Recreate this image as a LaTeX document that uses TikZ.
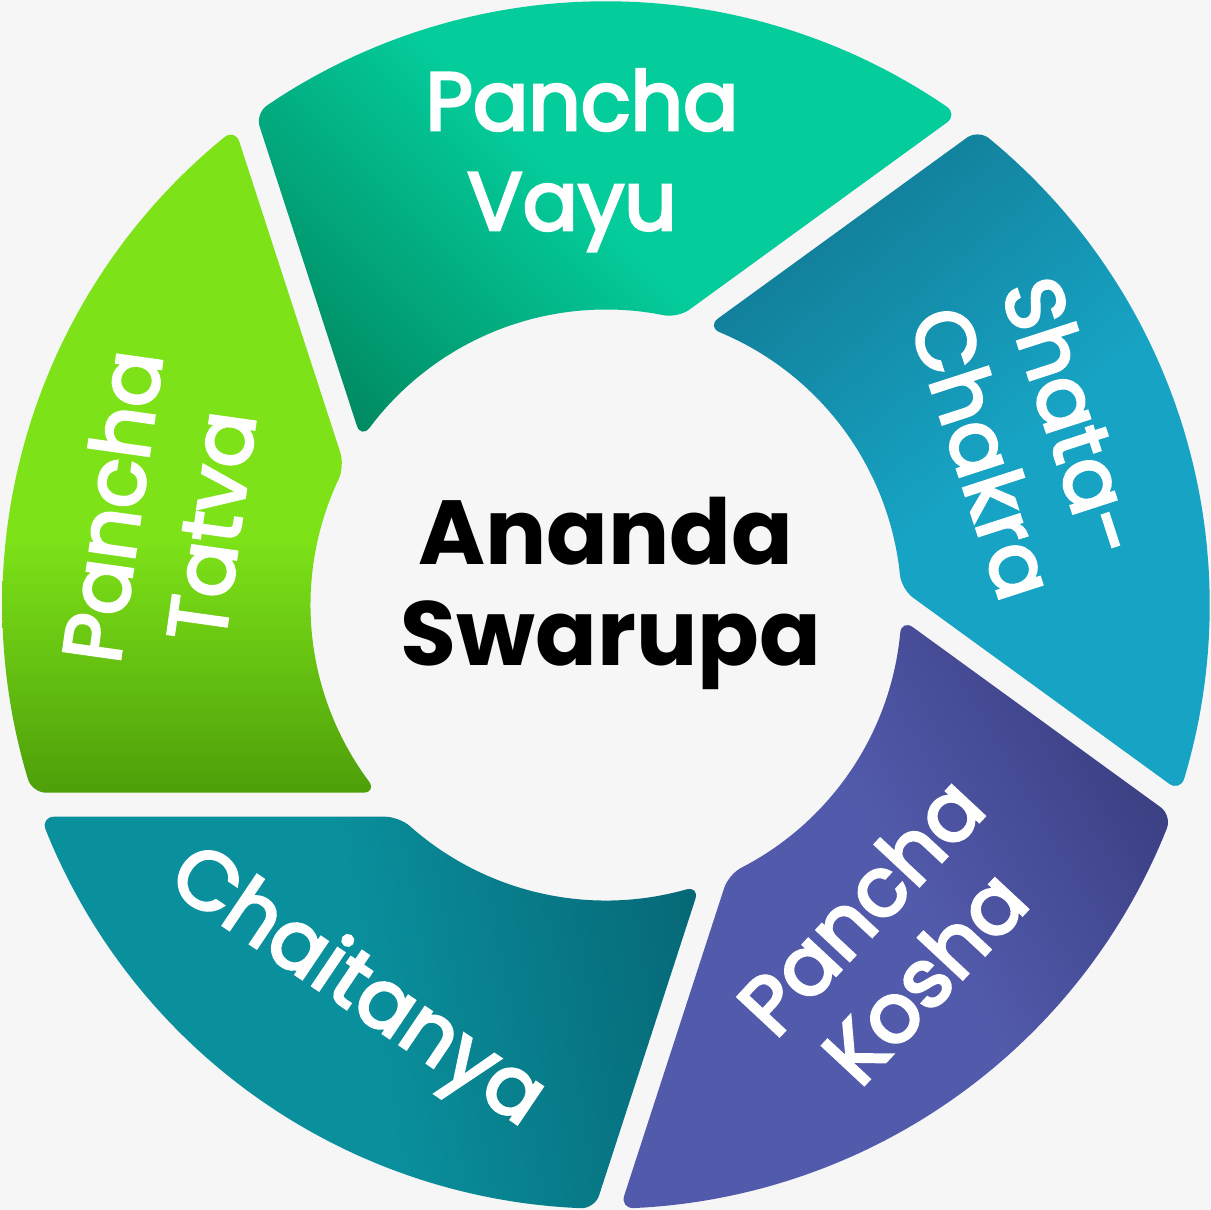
\documentclass[tikz,border=0pt]{standalone}
\usepackage{fontspec}
\usetikzlibrary{calc}
\setmainfont{Poppins}
\newfontfamily\labfont{Poppins}[FakeBold=3.5]
\definecolor{bgc}{HTML}{F6F6F6}
\definecolor{tatvaL}{HTML}{7DE218}
\definecolor{tatvaD}{HTML}{4E9F0A}
\definecolor{vayuL}{HTML}{04CC9B}
\definecolor{vayuD}{HTML}{00845D}
\definecolor{shataL}{HTML}{17A3C3}
\definecolor{shataD}{HTML}{10758F}
\definecolor{koshaL}{HTML}{525AAB}
\definecolor{koshaD}{HTML}{353878}
\definecolor{chaiL}{HTML}{0A8F9C}
\definecolor{chaiD}{HTML}{066776}
\pgfdeclareverticalshading{tatvash}{100bp}{color(0bp)=(tatvaD); color(25bp)=(tatvaD); color(44bp)=(tatvaL); color(100bp)=(tatvaL)}
\pgfdeclareverticalshading{vayush}{100bp}{color(0bp)=(vayuD); color(19bp)=(vayuD); color(50bp)=(vayuL); color(100bp)=(vayuL)}
\pgfdeclareverticalshading{shatash}{100bp}{color(0bp)=(shataD); color(20bp)=(shataD); color(52bp)=(shataL); color(100bp)=(shataL)}
\pgfdeclareverticalshading{koshash}{100bp}{color(0bp)=(koshaD); color(18bp)=(koshaD); color(48bp)=(koshaL); color(100bp)=(koshaL)}
\pgfdeclareverticalshading{chaish}{100bp}{color(0bp)=(chaiD); color(22bp)=(chaiD); color(50bp)=(chaiL); color(100bp)=(chaiL)}
\def\Px{-0.03}\def\Py{-0.13}\def\dof{1.867}\def\Rout{6.04}\def\Rin{2.96}\def\gp{0.12}
\newcommand\ringseg[2]{%
  \pgfmathsetmacro\sa{-72*#1}%
  \pgfmathsetmacro\sb{-72*(#1+1)}%
  \pgfmathsetmacro\hA{-sin(\sa)*\Px+cos(\sa)*\Py-\dof+\gp}%
  \pgfmathsetmacro\hC{-sin(\sb)*\Px+cos(\sb)*\Py-\dof-\gp}%
  \pgfmathsetmacro\angA{\sa+atan2(\hA,-sqrt(\Rout*\Rout-\hA*\hA))}%
  \pgfmathsetmacro\angB{\sa+atan2(\hA,-sqrt(\Rin*\Rin-\hA*\hA))}%
  \pgfmathsetmacro\angC{\sb+atan2(\hC,-sqrt(\Rin*\Rin-\hC*\hC))}%
  \pgfmathsetmacro\angD{\sb+atan2(\hC,-sqrt(\Rout*\Rout-\hC*\hC))}%
  \path[#2, rounded corners=14pt] ($(\angA:\Rout)!0.5!(\angB:\Rin)$) -- (\angB:\Rin)
     \foreach \k in {1,...,10} { -- ({\angB+(\angC-\angB)*\k/10}:\Rin) }
     -- (\angD:\Rout)
     \foreach \k in {1,...,20} { -- ({\angD+(\angA-\angD)*\k/20}:\Rout) }
     -- cycle;
}
\tikzset{
  lab/.style={text=white, font=\labfont\fontsize{82}{100}\selectfont, anchor=base, inner sep=0pt},
  ctr/.style={text=black, font=\bfseries\fontsize{91}{101}\selectfont, anchor=base, inner sep=0pt}
}
\begin{document}
\begin{tikzpicture}[x=100pt,y=100pt]
\fill[bgc] (-6.06,-6.05) rectangle (6.05,6.05);
\useasboundingbox (-6.06,-6.05) rectangle (6.05,6.05);
% segments: 0 Tatva, 1 Vayu, 2 Shata, 3 Kosha, 4 Chaitanya
\ringseg{0}{shading=tatvash}
\ringseg{1}{shading=vayush, shading angle=-45}
\ringseg{2}{shading=shatash, shading angle=-140}
\ringseg{3}{shading=koshash, shading angle=120}
\ringseg{4}{shading=chaish, shading angle=100}
% labels
\node[lab] (vp1) at (-0.24,4.75) {Pancha};
\node[lab] (vp2) at (-0.34,3.75) {Vayu};
\node[lab, rotate=82] (tp1) at (-4.65,0.95) {Pancha};
\node[lab, rotate=82] (tp2) at (-3.66,0.75) {Tatva};
\node[lab, rotate=-72] (sp1) at (4.39,1.79) {Shata-};
\node[lab, rotate=-72] (sp2) at (3.49,1.43) {Chakra};
\node[lab, rotate=47] (kp1) at (2.76,-3.21) {Pancha};
\node[lab, rotate=47] (kp2) at (3.40,-3.92) {Kosha};
\node[lab, rotate=-34] (cp) at (-2.62,-4.02) {Chaitanya};
\node[ctr] (an1) at (0,0.40) {Ananda};
\node[ctr] (an2) at (0.05,-0.61) {Swarupa};
\end{tikzpicture}
\end{document}
